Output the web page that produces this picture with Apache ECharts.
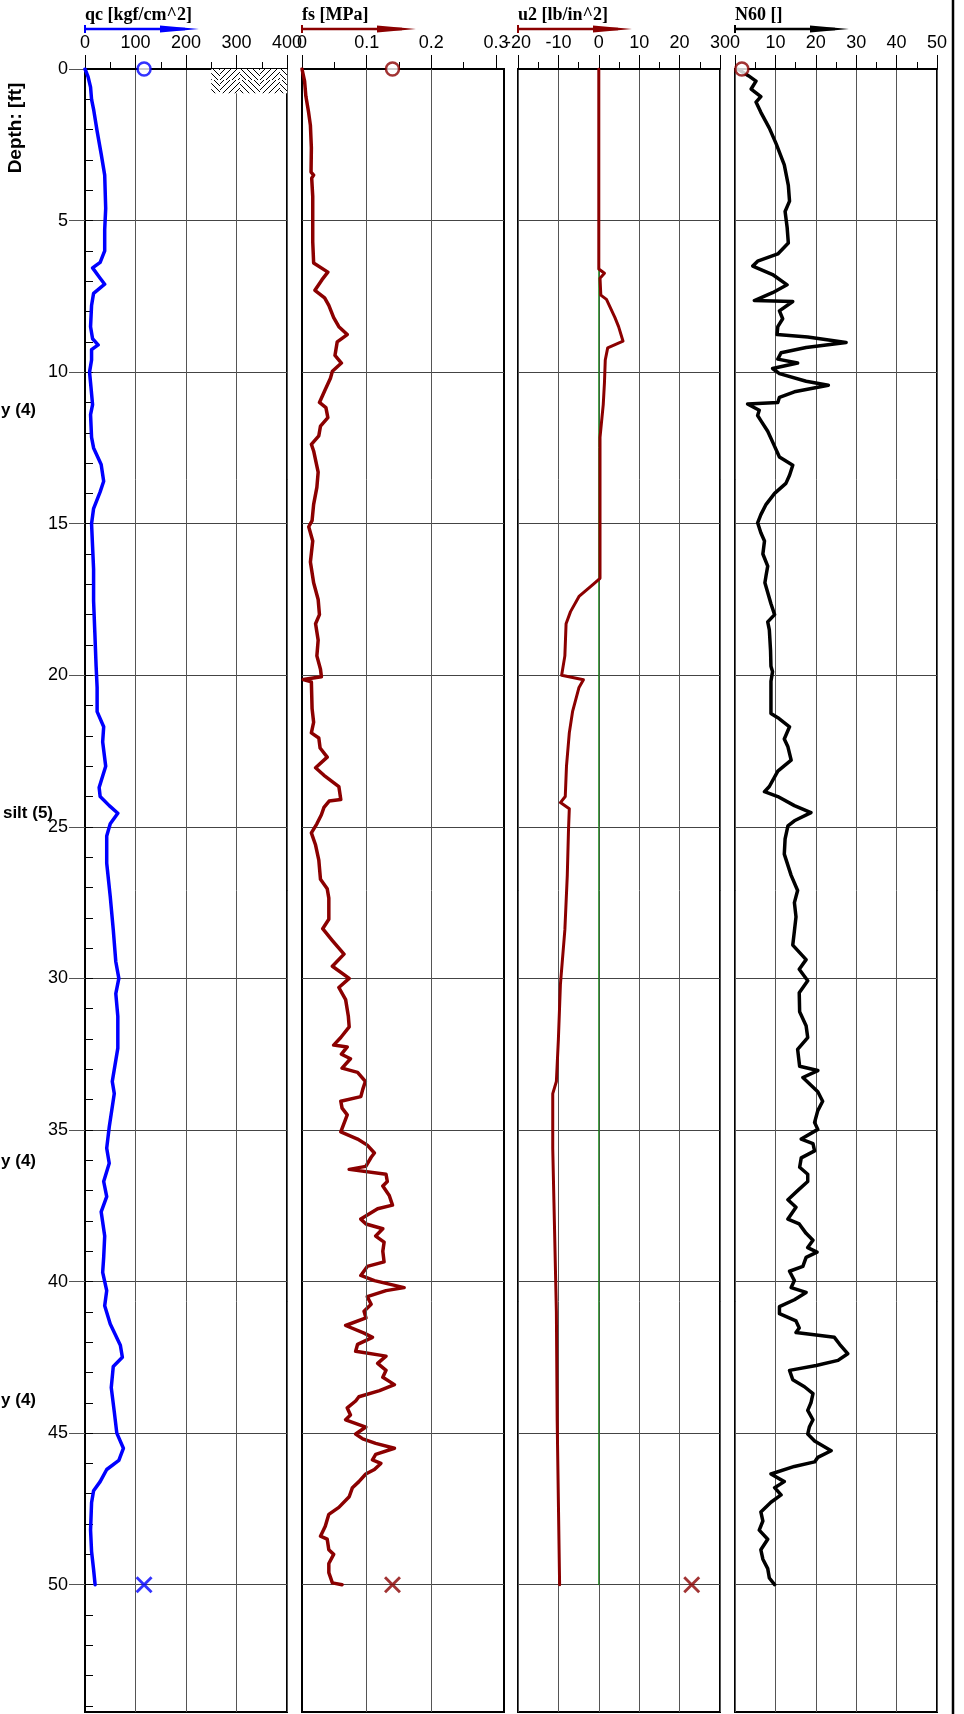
<!DOCTYPE html>
<html>
<head>
<meta charset="utf-8">
<script src="https://cdn.jsdelivr.net/npm/echarts@6/dist/echarts.min.js"></script>
<style>
html, body { margin: 0; padding: 0; background: #fff; }
#chart { width: 964px; height: 1714px; }
</style>
</head>
<body>
<div id="chart"></div>
<script>
var qcDepth = [0, 0.25, 0.6, 1.0, 1.33, 2.05, 2.8, 3.5, 4.6, 5.3, 6.0, 6.38, 6.56, 6.9, 7.1, 7.4, 7.8, 8.5, 8.9, 9.1, 9.26, 9.6, 10.0, 10.35, 11.07, 11.4, 12.15, 12.5, 13.05, 13.6, 13.95, 14.5, 15.0, 15.75, 16.5, 17.55, 18.6, 19.7, 20.4, 21.2, 21.7, 22.2, 23.0, 23.7, 24.0, 24.3, 24.55, 24.9, 25.3, 26.2, 27.3, 28.4, 29.45, 30.0, 30.5, 31.25, 32.3, 33.4, 33.8, 34.9, 35.6, 36.1, 36.7, 37.2, 37.7, 38.5, 39.2, 39.7, 40.3, 40.8, 41.4, 42.1, 42.5, 42.8, 43.5, 44.3, 45.0, 45.5, 45.9, 46.2, 46.6, 46.9, 47.3, 48.2, 48.9, 49.5, 50.0];
var qcValue = [0, 6, 11, 13, 17, 24, 32, 39, 41, 39, 39, 30, 15, 30, 39, 17, 13, 11, 15, 26, 13, 13, 9, 11, 15, 11, 13, 17, 32, 37, 30, 17, 13, 15, 17, 17, 19.5, 22, 24, 24, 37, 35, 41, 28, 30, 48, 65, 50, 43, 43, 50, 56, 61, 67, 61, 65, 65, 54, 58, 48, 43, 48, 37, 43, 32, 39, 37, 35, 43, 39, 50, 70, 74, 56, 52, 58, 63, 76, 67, 43, 30, 17, 13, 11, 13, 17, 20];

var fsDepth = [0, 0.4, 0.9, 1.4, 1.86, 2.6, 3.4, 3.5, 3.6, 4.2, 5.0, 5.7, 6.4, 6.7, 6.95, 7.3, 7.55, 7.8, 8.2, 8.5, 8.76, 9.0, 9.45, 9.7, 9.97, 10.2, 10.57, 11.0, 11.17, 11.5, 11.78, 12.1, 12.38, 12.6, 13.3, 13.8, 14.36, 14.9, 15.1, 15.57, 16.26, 16.95, 17.5, 18.0, 18.3, 18.84, 19.36, 19.8, 20.05, 20.14, 20.22, 21.1, 21.55, 21.9, 22.07, 22.4, 22.7, 23.05, 23.3, 23.67, 24.1, 24.15, 24.36, 24.6, 24.9, 25.2, 25.6, 26.1, 26.73, 27.04, 27.35, 27.66, 28.05, 28.36, 28.75, 29.2, 29.6, 30.0, 30.3, 30.7, 31.25, 31.6, 31.95, 32.2, 32.26, 32.5, 32.65, 32.96, 33.1, 33.4, 33.66, 33.9, 34.05, 34.28, 34.5, 35.06, 35.3, 35.5, 35.76, 35.9, 36.2, 36.3, 36.46, 36.7, 36.85, 37.16, 37.48, 37.6, 37.94, 38.1, 38.26, 38.5, 38.7, 39.0, 39.35, 39.5, 39.8, 39.97, 40.2, 40.3, 40.5, 40.75, 40.98, 41.2, 41.45, 41.7, 41.84, 42.07, 42.3, 42.46, 42.7, 42.93, 43.16, 43.4, 43.6, 43.8, 43.94, 44.17, 44.4, 44.56, 44.8, 45.03, 45.19, 45.34, 45.5, 45.7, 45.88, 46.0, 46.2, 46.35, 46.6, 46.8, 47.1, 47.45, 47.68, 48.07, 48.4, 48.5, 48.85, 49.0, 49.3, 49.6, 49.94, 50.0];
var fsValue = [0, 0.004, 0.006, 0.010, 0.013, 0.0145, 0.014, 0.018, 0.015, 0.0166, 0.0166, 0.0166, 0.018, 0.040, 0.031, 0.020, 0.035, 0.0415, 0.049, 0.057, 0.070, 0.0545, 0.051, 0.061, 0.047, 0.044, 0.036, 0.027, 0.037, 0.040, 0.0286, 0.026, 0.0145, 0.018, 0.025, 0.023, 0.018, 0.0156, 0.0104, 0.0166, 0.013, 0.018, 0.025, 0.027, 0.021, 0.025, 0.023, 0.0286, 0.030, 0.002, 0.0145, 0.0156, 0.018, 0.0145, 0.026, 0.028, 0.039, 0.021, 0.034, 0.057, 0.060, 0.042, 0.034, 0.030, 0.023, 0.0145, 0.021, 0.026, 0.0286, 0.039, 0.0415, 0.0415, 0.0415, 0.032, 0.047, 0.065, 0.047, 0.073, 0.057, 0.0675, 0.0717, 0.073, 0.060, 0.049, 0.070, 0.061, 0.075, 0.062, 0.086, 0.098, 0.094, 0.091, 0.060, 0.062, 0.070, 0.060, 0.086, 0.101, 0.112, 0.107, 0.0987, 0.073, 0.130, 0.132, 0.125, 0.135, 0.140, 0.117, 0.091, 0.099, 0.125, 0.114, 0.127, 0.125, 0.127, 0.101, 0.091, 0.112, 0.158, 0.130, 0.101, 0.107, 0.096, 0.099, 0.0675, 0.0961, 0.109, 0.086, 0.083, 0.130, 0.117, 0.130, 0.125, 0.143, 0.120, 0.088, 0.083, 0.070, 0.075, 0.0675, 0.0987, 0.083, 0.094, 0.114, 0.143, 0.114, 0.109, 0.122, 0.112, 0.0987, 0.088, 0.078, 0.073, 0.057, 0.0415, 0.036, 0.0286, 0.039, 0.0415, 0.049, 0.0415, 0.0415, 0.047, 0.062];

var u2Depth = [0, 6.6, 6.74, 6.9, 7.46, 7.6, 8.2, 8.5, 8.98, 9.2, 9.6, 10.35, 11.07, 12.15, 13.95, 15.75, 16.8, 17.0, 17.4, 17.9, 18.3, 19.36, 20.0, 20.15, 20.4, 21.2, 21.9, 23.0, 24.0, 24.2, 24.4, 25.1, 26.6, 28.4, 30.2, 32.0, 33.4, 33.8, 35.6, 37.4, 41.0, 44.6, 50.0];
var u2Value = [0, 0, 1.4, 0.3, 0.5, 1.9, 4, 4.9, 6, 2.2, 1.6, 1.4, 1.1, 0.3, 0.3, 0.3, 0.3, -1.4, -4.9, -7, -8.1, -8.4, -9.2, -3.8, -4.9, -6.5, -7.3, -8, -8.3, -9.5, -7.3, -7.5, -7.8, -8.4, -9.5, -10, -10.5, -11.4, -11.4, -11.1, -10.5, -10.3, -9.7];

var n60Depth = [0, 0.22, 0.4, 0.66, 0.91, 1.09, 1.43, 1.95, 2.47, 3.16, 3.84, 4.36, 4.7, 5.22, 5.74, 6.1, 6.34, 6.5, 6.78, 7.12, 7.38, 7.64, 7.67, 7.98, 8.24, 8.5, 8.76, 8.84, 9.02, 9.19, 9.36, 9.57, 9.7, 9.88, 10.05, 10.3, 10.43, 10.65, 10.83, 11.0, 11.05, 11.26, 11.43, 11.6, 11.95, 12.3, 12.8, 13.07, 13.4, 13.67, 14.0, 14.36, 14.7, 14.97, 15.3, 15.57, 16.0, 16.4, 16.7, 16.95, 17.64, 18.0, 18.24, 18.5, 19.19, 19.7, 19.88, 20.2, 20.74, 21.26, 21.4, 21.7, 22.1, 22.36, 22.8, 23.16, 23.67, 23.84, 24.0, 24.3, 24.53, 24.8, 24.97, 25.4, 25.9, 26.6, 27.1, 27.5, 27.97, 28.44, 28.9, 29.38, 29.7, 30.08, 30.47, 31.1, 31.56, 31.95, 32.34, 32.9, 33.04, 33.27, 33.74, 34.05, 34.36, 34.75, 34.98, 35.3, 35.45, 35.69, 35.92, 36.23, 36.46, 36.7, 37.0, 37.3, 37.55, 37.94, 38.1, 38.41, 38.64, 38.88, 39.03, 39.2, 39.5, 39.66, 39.97, 40.2, 40.36, 40.6, 40.83, 41.06, 41.3, 41.53, 41.68, 41.76, 41.84, 42.07, 42.38, 42.6, 42.77, 42.93, 43.24, 43.47, 43.7, 44.0, 44.25, 44.56, 44.8, 45.03, 45.26, 45.58, 45.8, 45.95, 46.1, 46.35, 46.6, 46.8, 47.04, 47.28, 47.6, 47.9, 48.2, 48.5, 48.85, 49.16, 49.47, 49.78, 50.0];
var n60Value = [0.7, 3.3, 5.2, 4.0, 6.4, 5.2, 6.4, 8.5, 10.2, 12.2, 13.2, 13.5, 12.4, 12.9, 13.2, 10.6, 5.6, 4.4, 9.3, 12.9, 9.3, 4.8, 14.3, 11.0, 11.8, 10.6, 10.4, 18.0, 27.5, 17.6, 11.4, 10.6, 15.5, 9.3, 11.0, 17.6, 23.1, 14.7, 11.0, 10.6, 3.1, 6.0, 5.6, 6.4, 8.1, 9.3, 11.0, 14.3, 13.5, 12.6, 9.8, 7.7, 6.4, 5.6, 6.4, 7.3, 6.9, 8.1, 7.7, 7.4, 8.9, 9.8, 8.1, 8.5, 8.8, 8.9, 9.3, 8.9, 8.9, 8.9, 10.6, 13.5, 12.2, 13.1, 13.9, 10.6, 8.5, 7.3, 10.6, 14.7, 18.8, 14.7, 13.1, 12.4, 12.2, 13.9, 15.5, 14.7, 15.1, 14.7, 14.3, 17.6, 15.9, 18.0, 15.9, 16.0, 17.6, 18.0, 15.5, 16.0, 20.5, 16.8, 20.5, 21.7, 20.5, 19.7, 20.5, 16.4, 19.3, 19.7, 16.4, 16.0, 18.0, 18.0, 15.5, 13.1, 15.1, 13.1, 15.9, 17.6, 19.3, 18.0, 20.3, 17.6, 16.8, 13.5, 14.7, 13.9, 17.6, 14.7, 11.0, 11.0, 15.1, 15.9, 15.1, 20.1, 24.6, 25.9, 27.9, 25.5, 20.1, 13.5, 14.3, 17.2, 19.3, 18.8, 18.0, 19.3, 18.4, 18.0, 19.7, 23.8, 20.5, 19.7, 14.7, 8.9, 12.2, 9.8, 11.4, 8.9, 6.4, 6.9, 6.0, 8.1, 6.4, 6.9, 8.1, 8.5, 9.8];

// start (o) and end (x) markers: [value, depth]
var qcMarks = [[117, 0], [117, 50]];
var fsMarks = [[0.14, 0], [0.14, 50]];
var u2Marks = [[23, 50]];
var n60Marks = [[1.7, 0]];

var depthMajor = [0, 5, 10, 15, 20, 25, 30, 35, 40, 45, 50];
var depthMinor = [];
for (var d = 0; d <= 54; d++) depthMinor.push(d);
var fsTicks = [0, 0.1, 0.2, 0.3];

function pairs(vals, depths) {
    return vals.map(function (v, i) { return [v, depths[i]]; });
}

var BLUE = '#0000ff', RED = '#8b0000', BLACK = '#000000';
var lefts = [85, 302, 518, 735];
var W = 202, TOP = 69, H = 1643, DMAX = 54.2;
var SANS = '"Liberation Sans", Arial, sans-serif';
var SERIF = '"Liberation Serif", "Times New Roman", serif';
var XMARK = 'path://M0,1.2L1.2,0L5,3.8L8.8,0L10,1.2L6.2,5L10,8.8L8.8,10L5,6.2L1.2,10L0,8.8L3.8,5Z';

// herringbone hatch for the soil symbol
function hatch() {
    var c = document.createElement('canvas');
    c.width = 40; c.height = 40;
    var g = c.getContext('2d');
    g.fillStyle = '#fff';
    g.fillRect(0, 0, 40, 40);
    g.strokeStyle = '#000';
    g.lineWidth = 1;
    g.save();
    g.beginPath(); g.rect(0, 0, 20, 40); g.clip();
    g.beginPath();
    for (var k = -40; k <= 40; k += 6) { g.moveTo(k, 0); g.lineTo(k + 40, 40); }
    g.stroke();
    g.restore();
    g.save();
    g.beginPath(); g.rect(20, 0, 20, 40); g.clip();
    g.beginPath();
    for (var k2 = 0; k2 <= 80; k2 += 6) { g.moveTo(k2, 0); g.lineTo(k2 - 40, 40); }
    g.stroke();
    g.restore();
    return c;
}

var chart = echarts.init(document.getElementById('chart'));

var grids = lefts.map(function (l) {
    return { left: l, top: TOP, width: W, height: H, show: true,
             borderColor: '#000', borderWidth: 2, backgroundColor: '#fff' };
});

function topAxis(i, min, max, interval, extra) {
    var ax = {
        gridIndex: i, type: 'value', position: 'top', min: min, max: max, interval: interval,
        axisLine: { show: true, onZero: false, lineStyle: { color: '#000', width: 2 } },
        axisTick: { show: true, length: 14, lineStyle: { color: '#000', width: 1 } },
        minorTick: { show: true, splitNumber: 2, length: 7, lineStyle: { color: '#000', width: 1 } },
        axisLabel: { color: '#000', fontSize: 18, fontFamily: SANS, margin: 17 },
        splitLine: { show: true, lineStyle: { color: '#555', width: 1 } }
    };
    if (extra) extra(ax);
    return ax;
}

var xAxes = [
    topAxis(0, 0, 400, 100),
    topAxis(1, 0, 0.3125, 0.1, function (ax) {
        ax.splitLine.show = false;
        ax.axisLabel.customValues = fsTicks;
        ax.axisTick.customValues = fsTicks;
    }),
    topAxis(2, -20, 30, 10),
    topAxis(3, 0, 50, 10)
];

var yAxes = [0, 1, 2, 3].map(function (i) {
    return {
        gridIndex: i, type: 'value', inverse: true, min: 0, max: DMAX, interval: 5,
        axisLine: { show: i === 0, onZero: false, lineStyle: { color: '#000', width: 2 } },
        axisTick: { show: i === 0, length: 16, customValues: depthMajor, lineStyle: { color: '#555', width: 1 } },
        axisLabel: { show: i === 0, color: '#000', fontSize: 18, fontFamily: SANS, margin: 17,
                     customValues: depthMajor },
        splitLine: { show: true, lineStyle: { color: '#444', width: 1 } }
    };
});
// 1 ft ticks on the depth scale
yAxes.push({
    gridIndex: 0, type: 'value', inverse: true, min: 0, max: DMAX, interval: 1,
    axisLine: { show: false },
    axisTick: { show: true, length: 8, customValues: depthMinor, lineStyle: { color: '#000', width: 1 } },
    axisLabel: { show: false },
    splitLine: { show: false }
});

function curve(name, i, data, color, width) {
    return {
        name: name, type: 'line', xAxisIndex: i, yAxisIndex: i, data: data,
        showSymbol: false, symbol: 'none', silent: true, z: 3,
        lineStyle: { color: color, width: width, join: 'round', cap: 'round' }
    };
}

function marks(i, data, color) {
    return {
        type: 'scatter', xAxisIndex: i, yAxisIndex: i, clip: false, silent: true, z: 5,
        data: data.map(function (p) {
            if (p[1] === 0) {
                return { value: p, symbol: 'circle', symbolSize: 13,
                         itemStyle: { color: '#fff', borderColor: color, borderWidth: 2.5 } };
            }
            return { value: p, symbol: XMARK, symbolSize: 17, itemStyle: { color: color } };
        })
    };
}

var qcSeries = curve('qc', 0, pairs(qcValue, qcDepth), BLUE, 3.5);
qcSeries.markArea = {
    silent: true,
    itemStyle: { color: { image: hatch(), repeat: 'repeat' } },
    data: [[{ xAxis: 250, yAxis: 0 }, { xAxis: 400, yAxis: 0.8 }]]
};

var fsSeries = curve('fs', 1, pairs(fsValue, fsDepth), RED, 3.5);
fsSeries.markLine = {
    silent: true, symbol: 'none', label: { show: false },
    lineStyle: { color: '#555', width: 1, type: 'solid' },
    data: [{ xAxis: 0.1 }, { xAxis: 0.2 }]
};

var u0Series = curve('u0', 2, [[0, 0], [0, 50]], '#008000', 1);
u0Series.z = 2;

var option = {
    backgroundColor: '#fff',
    animation: false,
    grid: grids,
    xAxis: xAxes,
    yAxis: yAxes,
    series: [
        qcSeries,
        fsSeries,
        u0Series,
        curve('u2', 2, pairs(u2Value, u2Depth), RED, 3),
        curve('N60', 3, pairs(n60Value, n60Depth), BLACK, 3.5),
        marks(0, qcMarks, BLUE),
        marks(1, fsMarks, RED),
        marks(2, u2Marks, RED),
        marks(3, n60Marks, RED)
    ],
    graphic: []
};

// panel headers with direction arrows
var titles = ['qc [kgf/cm^2]', 'fs [MPa]', 'u2 [lb/in^2]', 'N60 []'];
var colors = [BLUE, RED, RED, BLACK];
titles.forEach(function (t, i) {
    var l = lefts[i];
    option.graphic.push(
        { type: 'text', x: l, y: 15, style: { text: t, font: 'bold 18px ' + SERIF, fill: '#000', align: 'left', verticalAlign: 'middle' } },
        { type: 'line', shape: { x1: l, y1: 29, x2: l + 100, y2: 29 }, style: { stroke: colors[i], lineWidth: 2.5 } },
        { type: 'line', shape: { x1: l, y1: 25, x2: l, y2: 33 }, style: { stroke: colors[i], lineWidth: 2 } },
        { type: 'polygon', shape: { points: [[l + 75, 25.5], [l + 114, 29], [l + 75, 32.5]] }, style: { fill: colors[i] } }
    );
});

var LABEL_FONT = 'bold 17px ' + SANS;
option.graphic.push(
    { type: 'text', x: 16, y: 128, rotation: Math.PI / 2,
      style: { text: 'Depth: [ft]', font: 'bold 19px ' + SANS, fill: '#000', align: 'center', verticalAlign: 'middle' } },
    { type: 'text', x: 36, y: 410, style: { text: 'y (4)', font: LABEL_FONT, fill: '#000', align: 'right', verticalAlign: 'middle' } },
    { type: 'text', x: 53, y: 813, style: { text: 'silt (5)', font: LABEL_FONT, fill: '#000', align: 'right', verticalAlign: 'middle' } },
    { type: 'text', x: 36, y: 1161, style: { text: 'y (4)', font: LABEL_FONT, fill: '#000', align: 'right', verticalAlign: 'middle' } },
    { type: 'text', x: 36, y: 1400, style: { text: 'y (4)', font: LABEL_FONT, fill: '#000', align: 'right', verticalAlign: 'middle' } },
    { type: 'line', shape: { x1: 953, y1: 0, x2: 953, y2: 1714 }, style: { stroke: '#000', lineWidth: 2.5 } }
);

chart.setOption(option);
</script>
</body>
</html>
